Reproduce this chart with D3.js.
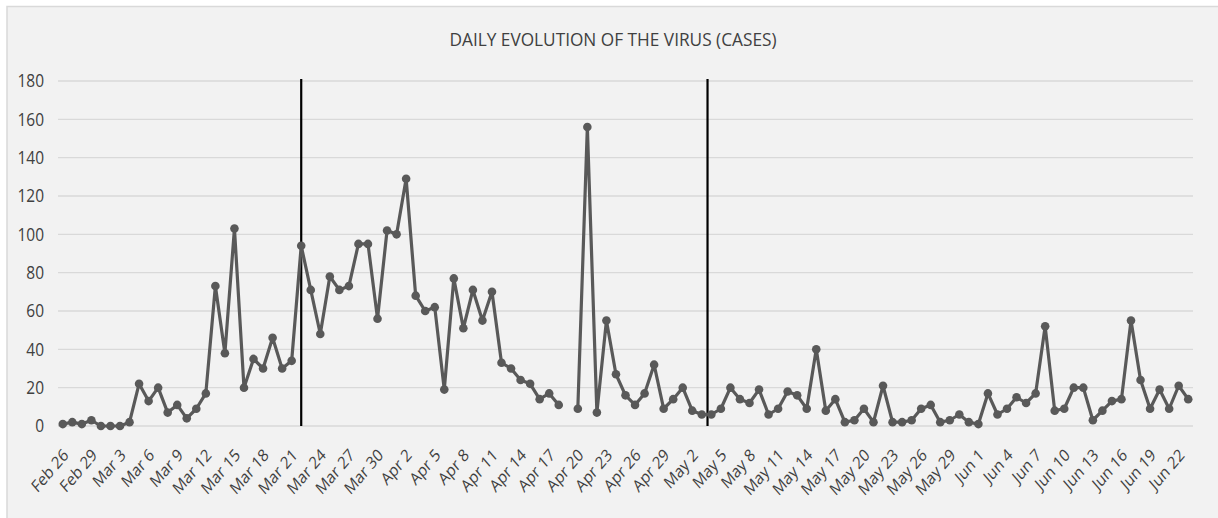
<!DOCTYPE html>
<html>
<head>
<script src="https://d3js.org/d3.v7.min.js"></script>
<title>Daily evolution of the virus (cases)</title>
<style>
  body { margin: 0; background: #fff; }
  text { font-family: "Open Sans", sans-serif; fill: #404040; }
</style>
</head>
<body>
<div id="chart"></div>
<script>
// daily new cases, Feb 26 -> Jun 23 (null = no report that day)
var startDay = new Date(2020, 1, 26);
var cases = [1,2,1,3,0,0,0,2,22,13,
             20,7,11,4,9,17,73,38,103,20,
             35,30,46,30,34,94,71,48,78,71,
             73,95,95,56,102,100,129,68,60,62,
             19,77,51,71,55,70,33,30,24,22,
             14,17,11,null,9,156,7,55,27,16,
             11,17,32,9,14,20,8,6,6,9,
             20,14,12,19,6,9,18,16,9,40,
             8,14,2,3,9,2,21,2,2,3,
             9,11,2,3,6,2,1,17,6,9,
             15,12,17,52,8,9,20,20,3,8,
             13,14,55,24,9,19,9,21,14];
var fmt = d3.timeFormat("%b %-d");
var days = cases.map(function(d, i) { return fmt(d3.timeDay.offset(startDay, i)); });

var tickLabels = ["Feb 26","Feb 29","Mar 3","Mar 6","Mar 9","Mar 12","Mar 15","Mar 18","Mar 21","Mar 24",
                  "Mar 27","Mar 30","Apr 2","Apr 5","Apr 8","Apr 11","Apr 14","Apr 17","Apr 20","Apr 23",
                  "Apr 26","Apr 29","May 2","May 5","May 8","May 11","May 14","May 17","May 20","May 23",
                  "May 26","May 29","Jun 1","Jun 4","Jun 7","Jun 10","Jun 13","Jun 16","Jun 19","Jun 22"];
var yTicks = [0,20,40,60,80,100,120,140,160,180];
// the two vertical marker lines (position in days from Feb 26)
var dividers = [25, 67.6];

var width = 1218, height = 518;
var svg = d3.select('#chart').append('svg').attr('width', width).attr('height', height);

// chart area
svg.append('rect')
   .attr('x', 7).attr('y', 6.5)
   .attr('width', width).attr('height', height)
   .attr('fill', '#f2f2f2')
   .attr('stroke', '#d9d9d9').attr('stroke-width', 1.5);

var x = d3.scaleLinear().domain([-0.5, cases.length - 0.5]).range([58, 1193]);
var y = d3.scaleLinear().domain([0, 180]).range([426, 81]);

// title
svg.append('text')
   .text('DAILY EVOLUTION OF THE VIRUS (CASES)')
   .attr('x', 613).attr('y', 46)
   .attr('text-anchor', 'middle')
   .attr('font-size', 19)
   .attr('textLength', 327).attr('lengthAdjust', 'spacingAndGlyphs');

// gridlines
svg.append('g').selectAll('line')
   .data(yTicks).enter().append('line')
   .attr('x1', x.range()[0]).attr('x2', x.range()[1])
   .attr('y1', function(d) { return y(d); })
   .attr('y2', function(d) { return y(d); })
   .attr('stroke', '#d9d9d9').attr('stroke-width', 1.3);

// y labels
svg.append('g').selectAll('text')
   .data(yTicks).enter().append('text')
   .text(function(d) { return d; })
   .attr('transform', function(d) { return 'translate(44,' + y(d) + ') scale(0.86,1)'; })
   .attr('dy', '0.36em')
   .attr('text-anchor', 'end')
   .attr('font-size', 18);

// x labels
svg.append('g').selectAll('text')
   .data(tickLabels).enter().append('text')
   .text(function(d) { return d; })
   .attr('transform', function(d) {
     return 'translate(' + (x(days.indexOf(d)) + 3) + ',452) scale(0.86,1) rotate(-45)';
   })
   .attr('dy', '0.35em')
   .attr('text-anchor', 'end')
   .attr('font-size', 17);

// vertical markers
svg.append('g').selectAll('line')
   .data(dividers).enter().append('line')
   .attr('x1', function(d) { return x(d); })
   .attr('x2', function(d) { return x(d); })
   .attr('y1', y(181)).attr('y2', y(0))
   .attr('stroke', '#000').attr('stroke-width', 2.2);

// series
var line = d3.line()
    .defined(function(d) { return d != null; })
    .x(function(d, i) { return x(i); })
    .y(function(d) { return y(d); });

svg.append('path')
   .datum(cases)
   .attr('d', line)
   .attr('fill', 'none')
   .attr('stroke', '#595959')
   .attr('stroke-width', 3.2)
   .attr('stroke-linejoin', 'round');

svg.append('g').selectAll('circle')
   .data(cases.map(function(d, i) { return {v: d, i: i}; }).filter(function(d) { return d.v != null; }))
   .enter().append('circle')
   .attr('cx', function(d) { return x(d.i); })
   .attr('cy', function(d) { return y(d.v); })
   .attr('r', 4.3)
   .attr('fill', '#595959');
</script>
</body>
</html>
